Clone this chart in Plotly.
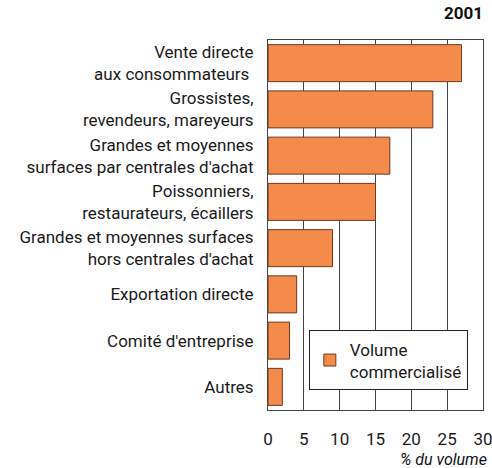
import plotly.graph_objects as go

categories = [
    "Vente directe<br>aux consommateurs ",
    "Grossistes,<br>revendeurs, mareyeurs",
    "Grandes et moyennes<br>surfaces par centrales d'achat",
    "Poissonniers,<br>restaurateurs, écaillers",
    "Grandes et moyennes surfaces<br>hors centrales d'achat",
    "Exportation directe",
    "Comité d'entreprise",
    "Autres",
]
volume = [27, 23, 17, 15, 9, 4, 3, 2]
x_ticks = [0, 5, 10, 15, 20, 25, 30]

fig = go.Figure()
fig.add_trace(go.Bar(
    y=categories,
    x=volume,
    orientation="h",
    name="Volume<br>commercialisé",
    marker=dict(color="#F58B4A", line=dict(color="#6B3A1F", width=1)),
    width=0.8,
))

fig.update_layout(
    width=492,
    height=468,
    margin=dict(l=268, r=9, t=40, b=58, autoexpand=False),
    plot_bgcolor="white",
    paper_bgcolor="white",
    font=dict(family="Roboto", size=17, color="#1a1a1a"),
    showlegend=True,
    legend=dict(
        x=0.19, y=0.215, xanchor="left", yanchor="top",
        bordercolor="#222", borderwidth=1, bgcolor="white",
        font=dict(size=17), tracegroupgap=0,
    ),
    annotations=[
        dict(text="<b>2001</b>", x=1.01, y=1.04, xref="paper", yref="paper",
             xanchor="right", yanchor="bottom", showarrow=False,
             font=dict(size=17, color="#111")),
        dict(text="<i>% du volume</i>", x=1.03, y=-0.103, xref="paper", yref="paper",
             xanchor="right", yanchor="top", showarrow=False,
             font=dict(size=16, color="#111")),
    ],
)
fig.update_xaxes(
    range=[0, 30],
    tickvals=x_ticks,
    showgrid=True, gridcolor="#444", gridwidth=1,
    showline=True, linecolor="#444", mirror=True,
    zeroline=False, ticks="", ticklabelstandoff=14,
    ticklabeloverflow="allow",
    automargin=False,
)
fig.update_yaxes(
    autorange="reversed",
    showgrid=False,
    showline=True, linecolor="#444", mirror=True,
    ticks="", ticklabelstandoff=10,
    automargin=False,
)

# the page body has a default 8px margin; drop it so the figure sits at 0,0
fig.write_html("out.html", config={"displayModeBar": False},
               post_script="document.body.style.margin='0';")
